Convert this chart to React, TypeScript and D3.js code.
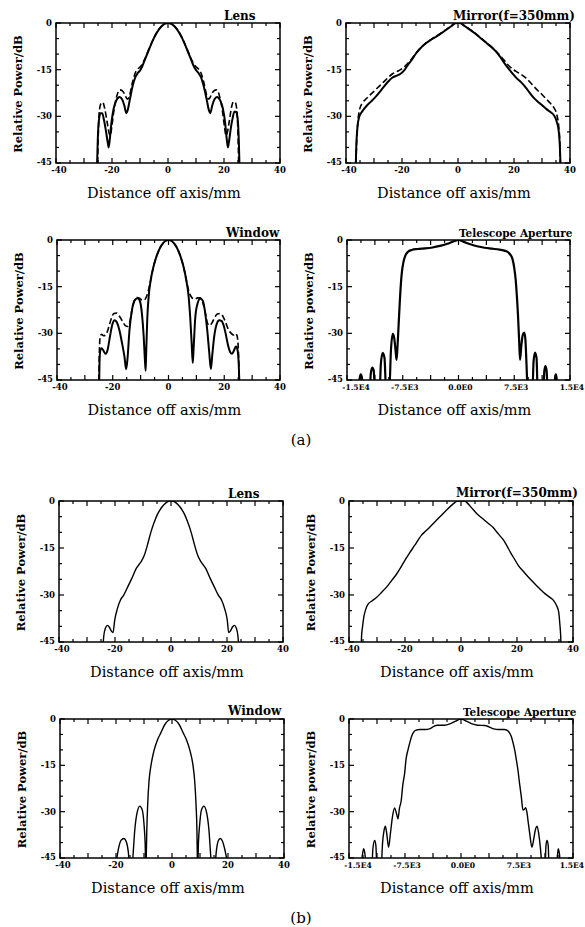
import React from 'react';
import * as d3 from 'd3';

type Pt = [number, number];

// ---------- tick values / labels ----------
const mmTickValues = [-40, -20, 0, 20, 40];
const mmTickLabels = ['-40', '-20', '0', '20', '40'];
const teleTickValues = [-15000, -7500, 0, 7500, 15000];
const teleTickLabels = ['-1.5E4', '-7.5E3', '0.0E0', '7.5E3', '1.5E4'];
const dbTickValues = [0, -15, -30, -45];
const dbTickLabels = ['0', '-15', '-30', '-45'];

// ---------- (a) Lens ----------
const lensASolid: Pt[] = [
  [-25.4, -48], [-25.1, -38], [-24.7, -31.5], [-24.1, -29], [-23.5, -29], [-22.9, -31], [-22.2, -34.5],
  [-21.5, -38.5], [-21.2, -40], [-20.8, -37.5], [-20.2, -32], [-19.4, -27.5], [-18.4, -24.8], [-17.3, -23.8],
  [-16.4, -24.5], [-15.6, -26.5], [-14.9, -29], [-14.4, -28], [-13.6, -24.5], [-12.7, -20.5], [-11.7, -17.5],
  [-10.7, -16], [-9.8, -15], [-9, -13.5], [-8, -11.2], [-7, -9], [-6, -6.8], [-5, -4.8], [-4, -3.1], [-3, -1.8],
  [-2, -0.8], [-1, -0.2], [0, 0], [1, -0.2], [2, -0.8], [3, -1.8], [4, -3.1], [5, -4.8], [6, -6.8], [7, -9],
  [8, -11.2], [9, -13.5], [9.9, -15], [10.8, -16], [11.8, -17.5], [12.8, -20.5], [13.8, -24.5], [14.6, -28],
  [15.1, -29], [15.8, -26.5], [16.6, -24.5], [17.5, -23.8], [18.6, -24.8], [19.6, -27.5], [20.4, -32],
  [21, -37.5], [21.4, -40], [21.8, -38], [22.4, -34], [23.1, -30.5], [23.7, -28.5], [24.3, -28.5],
  [24.9, -31], [25.3, -38], [25.6, -48],
];
const lensADashed: Pt[] = [
  [-25.2, -48], [-24.9, -36], [-24.5, -28], [-23.9, -25.8], [-23.3, -25.5], [-22.6, -27.5], [-21.8, -31.5],
  [-21.0, -35.5], [-20.6, -36.2], [-20.1, -33.5], [-19.3, -28], [-18.3, -23.5], [-17.2, -21.5], [-16.3, -21.8],
  [-15.4, -23], [-14.5, -24.5], [-13.8, -23.5], [-12.8, -19.5], [-11.8, -16.3], [-10.8, -14.8], [-9.8, -14],
  [-9, -12.8], [-8, -11], [-7, -8.8], [-6, -6.7], [-5, -4.7], [-4, -3], [-3, -1.7], [-2, -0.8], [-1, -0.2],
  [0, 0], [1, -0.2], [2, -0.8], [3, -1.7], [4, -3], [5, -4.7], [6, -6.7], [7, -8.8], [8, -11], [9, -12.8],
  [9.9, -14], [10.9, -14.8], [11.9, -16.3], [12.9, -19.5], [13.9, -23.5], [14.6, -24.5], [15.5, -23],
  [16.4, -21.8], [17.3, -21.5], [18.4, -23.5], [19.4, -28], [20.2, -33.5], [20.7, -36.2], [21.1, -35.5],
  [21.9, -31.5], [22.7, -27], [23.4, -25.3], [24, -25.5], [24.6, -28], [25, -36], [25.3, -48],
];

// ---------- (a) Mirror ----------
const mirrorASolid: Pt[] = [
  [-36.6, -48], [-36.3, -39], [-35.9, -33.5], [-35.3, -30.2], [-34.2, -28.4], [-32.6, -26.6], [-31, -25.2],
  [-29.6, -23.9], [-28, -22.2], [-26.6, -20.6], [-25, -18.9], [-23.5, -17.6], [-21.8, -16.9], [-20.5, -16.3],
  [-19.3, -15.3], [-18, -13.6], [-16.5, -11.8], [-15, -9.8], [-13.5, -8.2], [-11.7, -6.7], [-9.5, -5.3],
  [-7.5, -4.2], [-5.5, -3.0], [-3.9, -2.0], [-2.2, -0.9], [-1, -0.1], [0, 0], [1, -0.1], [2.2, -0.9],
  [4, -2.0], [6, -3.3], [8, -4.8], [10, -6.3], [12, -7.8], [13.5, -9.1], [15, -10.8], [16.5, -12.8],
  [18, -14.6], [19.5, -16.3], [21, -17.8], [22.5, -19], [24, -20.5], [25.5, -22.3], [27, -24], [28.5, -25.3],
  [30, -26.4], [31.5, -27.6], [33, -28.6], [34.3, -29.7], [35.3, -31.8], [36, -35], [36.4, -40], [36.7, -48],
];
const mirrorADashed: Pt[] = [
  [-36.5, -48], [-36.2, -38], [-35.8, -32], [-35.2, -28], [-34.2, -25.8], [-32.6, -24.2], [-31, -22.8],
  [-29.6, -21.6], [-28, -20.2], [-26.6, -19], [-25, -17.6], [-23.5, -16.4], [-21.8, -15.6], [-20.5, -15],
  [-19.3, -14.2], [-18, -13], [-16.5, -11.5], [-15, -9.7], [-13.5, -8.1], [-11.7, -6.6], [-9.5, -5.2],
  [-7.5, -4.1], [-5.5, -2.9], [-3.9, -1.9], [-2.2, -0.8], [-1, -0.1], [0, 0], [1, -0.1], [2.2, -0.8],
  [4, -1.9], [6, -3.2], [8, -4.7], [10, -6.2], [12, -7.7], [13.5, -9], [15, -10.4], [16.5, -12], [18, -13.6],
  [19.5, -14.8], [21, -15.7], [22.5, -16.5], [24, -17.5], [25.5, -18.8], [27, -20.3], [28.5, -21.7],
  [30, -23], [31.5, -24.4], [33, -25.8], [34.3, -27.3], [35.3, -29.5], [36, -33.5], [36.4, -39], [36.6, -48],
];

// ---------- (a) Window ----------
const windowASolid: Pt[] = [
  [-24.9, -48], [-24.7, -38], [-24.4, -35.2], [-24, -34.8], [-23.4, -35.5], [-22.6, -36.6], [-21.9, -35.5],
  [-21, -31], [-20.1, -27], [-19.3, -25.8], [-18.5, -26.5], [-17.6, -29], [-16.7, -33], [-15.8, -37.5],
  [-15.2, -41.5], [-14.7, -38], [-14, -29], [-13, -22], [-12, -19.2], [-11, -18.7], [-10.2, -19.8],
  [-9.5, -24], [-8.9, -31], [-8.5, -38], [-8.2, -42], [-8, -36], [-7.6, -25], [-7.1, -18], [-6.4, -13],
  [-5.5, -9], [-4.5, -5.8], [-3.5, -3.4], [-2.5, -1.7], [-1.5, -0.6], [-0.7, -0.1], [0, 0], [0.7, -0.1],
  [1.5, -0.6], [2.5, -1.7], [3.5, -3.4], [4.5, -5.8], [5.5, -9], [6.4, -13], [7.2, -18], [7.8, -25],
  [8.3, -33], [8.7, -39.5], [9.0, -35], [9.6, -25], [10.4, -20.5], [11.4, -18.8], [12.3, -19.5], [13.1, -23],
  [13.9, -29], [14.6, -36], [15.2, -41.5], [15.7, -37], [16.4, -31], [17.3, -27], [18.2, -25.8], [19, -26],
  [19.8, -27.5], [20.6, -30.5], [21.4, -34], [22.1, -36], [22.8, -36.6], [23.5, -35.5], [24.2, -34.2],
  [24.8, -35.5], [25.2, -40], [25.5, -48],
];
const windowADashed: Pt[] = [
  [-25, -48], [-24.8, -36], [-24.5, -31], [-24, -30.3], [-23.3, -30.8], [-22.5, -30.5], [-21.6, -28.5],
  [-20.6, -25.5], [-19.6, -23.6], [-18.6, -23.5], [-17.6, -24.5], [-16.6, -26], [-15.5, -27.5], [-14.6, -27.8],
  [-13.9, -26.5], [-13.1, -22.5], [-12.2, -19.5], [-11.3, -18.5], [-10.4, -18.7], [-9.5, -19.3], [-8.7, -19.3],
  [-8, -18.4], [-7.3, -16.5], [-6.4, -13], [-5.5, -9], [-4.5, -5.8], [-3.5, -3.4], [-2.5, -1.7], [-1.5, -0.6],
  [-0.7, -0.1], [0, 0], [0.7, -0.1], [1.5, -0.6], [2.5, -1.7], [3.5, -3.4], [4.5, -5.8], [5.5, -9],
  [6.4, -13], [7.3, -16.5], [8, -18], [8.7, -18.8], [9.5, -19], [10.4, -18.6], [11.3, -18.6], [12.2, -19.8],
  [13.1, -23], [13.9, -26.5], [14.6, -27.5], [15.5, -26.8], [16.5, -25], [17.5, -23.8], [18.5, -23.6],
  [19.5, -24.5], [20.5, -26.5], [21.5, -28.8], [22.5, -30], [23.3, -30.5], [24, -30], [24.6, -30.8],
  [25.1, -36], [25.4, -48],
];

// ---------- (a) Telescope aperture ----------
const teleA: Pt[] = [
  [-15000, -48], [-13450, -48], [-13300, -44.5], [-13150, -43.2], [-13000, -44], [-12850, -48],
  [-11950, -48], [-11800, -43], [-11600, -41], [-11400, -42], [-11250, -48], [-10600, -48],
  [-10450, -40], [-10200, -36.3], [-9950, -38], [-9750, -48], [-9300, -48], [-9100, -36], [-8850, -30.2],
  [-8650, -31.5], [-8450, -36], [-8330, -38.5], [-8200, -34], [-8050, -27], [-7900, -20], [-7750, -14],
  [-7600, -10], [-7400, -7], [-7150, -5], [-6800, -3.8], [-6300, -3.2], [-5500, -2.9], [-4500, -2.7],
  [-3500, -2.4], [-2500, -1.9], [-1500, -1.2], [-700, -0.5], [0, 0], [700, -0.6], [1500, -1.3],
  [2500, -2], [3500, -2.5], [4500, -2.8], [5500, -3.1], [6300, -3.5], [6900, -4.5], [7250, -6],
  [7500, -9], [7700, -13], [7850, -18], [8000, -24], [8150, -32], [8280, -38.5], [8450, -34],
  [8650, -30.5], [8850, -29.8], [9000, -32], [9150, -40], [9300, -48], [9950, -48], [10100, -39],
  [10300, -36.2], [10500, -38], [10650, -48], [11400, -48], [11550, -42], [11700, -40.5], [11850, -42],
  [12000, -48], [12900, -48], [13000, -44], [13100, -43.2], [13200, -44.5], [13350, -48], [15000, -48],
];

// ---------- (b) Lens ----------
const lensB: Pt[] = [
  [-24.4, -48], [-24, -43], [-23.4, -40.5], [-22.7, -39.7], [-22, -40.3], [-21.3, -41.5], [-20.7, -42],
  [-20.1, -38], [-19.2, -34.5], [-18, -31.5], [-17, -30.2], [-15.5, -27.5], [-14, -24.7], [-12.4, -21.5],
  [-10.8, -19.5], [-9.6, -17.5], [-8.4, -14], [-7.2, -10], [-6, -6.8], [-4.8, -4.2], [-3.3, -2], [-1.8, -0.6],
  [-0.6, -0.05], [0, 0], [0.6, -0.05], [1.8, -0.6], [3.3, -2], [4.8, -4.2], [6, -6.8], [7.2, -10],
  [8.4, -14], [9.6, -17.5], [10.8, -19.5], [12.4, -21.5], [14, -24.7], [15.5, -27.5], [17, -30.2],
  [18, -31.5], [19.2, -34.5], [20.1, -38], [20.6, -42], [21.2, -41.5], [21.9, -40.3], [22.6, -39.7],
  [23.3, -40.5], [23.9, -43], [24.3, -48],
];

// ---------- (b) Mirror ----------
const mirrorB: Pt[] = [
  [-35.7, -48], [-35.5, -43], [-35.2, -40.4], [-34.7, -37], [-34, -34.5], [-33.2, -32.9], [-31.8, -31.9],
  [-30.2, -30.8], [-28.4, -29.2], [-26.6, -27.5], [-24.8, -25.4], [-23, -23.3], [-21.5, -21.2], [-20.1, -19],
  [-18.3, -16.5], [-16.5, -14.1], [-15.2, -12.3], [-14.1, -10.9], [-12.6, -9.6], [-11.1, -8.3], [-8.7, -6.1],
  [-6.2, -3.8], [-3.9, -1.8], [-2.2, -0.5], [-1.3, 0], [1.3, 0], [2.2, -0.6], [3.8, -2.2], [5.6, -4],
  [7.7, -5.6], [9.8, -7.2], [11.4, -8.4], [12.8, -9.9], [14, -11.2], [15.2, -12.5], [16.4, -14.3],
  [17.6, -16.3], [19, -18.4], [20.5, -20.6], [22.6, -22.8], [24.7, -24.9], [27.1, -27.1], [29.5, -29.2],
  [31.5, -30.6], [33.1, -31.8], [34.2, -33.5], [34.9, -35.5], [35.3, -39.3], [35.6, -43], [35.8, -48],
];

// ---------- (b) Window ----------
const windowB: Pt[] = [
  [-40, -48], [-20.3, -48], [-19.7, -45], [-19, -41.5], [-18.2, -39.3], [-17.2, -38.7], [-16.3, -39.8],
  [-15.6, -43], [-15.1, -48], [-14.4, -48], [-14, -45], [-13.3, -36], [-12.5, -30.5], [-11.5, -28.2],
  [-10.6, -29.5], [-10, -34], [-9.6, -40], [-9.35, -48], [-9.2, -45], [-9, -36], [-8.7, -28], [-8.2, -20],
  [-7.5, -15], [-6.5, -10.5], [-5.2, -6.8], [-4, -4.5], [-2.5, -1.7], [-1.2, -0.4], [0, 0], [1.2, -0.4],
  [2.5, -1.7], [4, -4.5], [5.2, -6.8], [6.5, -10.5], [7.5, -15], [8.1, -20], [8.6, -28], [8.9, -36],
  [9.05, -45], [9.2, -48], [9.45, -40], [9.9, -34], [10.5, -29.5], [11.4, -28.2], [12.4, -30.5],
  [13.2, -36], [13.9, -45], [14.3, -48], [15.3, -48], [15.8, -43], [16.5, -39.5], [17.2, -38.7],
  [18, -39.5], [18.8, -42], [19.5, -45], [20.2, -48], [40, -48],
];

// ---------- (b) Telescope aperture ----------
const teleB: Pt[] = [
  [-15000, -48], [-13400, -48], [-13200, -44], [-13036, -42], [-12850, -44], [-12700, -48],
  [-11950, -48], [-11800, -42], [-11560, -39.3], [-11400, -41], [-11250, -48], [-10700, -48],
  [-10500, -40], [-10300, -36], [-10130, -34.7], [-9950, -37], [-9700, -41.5], [-9450, -37],
  [-9200, -32], [-8900, -28.8], [-8650, -30.5], [-8440, -32.3], [-8250, -29], [-8000, -26.3],
  [-7800, -21.5], [-7550, -17.6], [-7350, -12.8], [-7100, -10], [-6880, -7.9], [-6600, -5.5],
  [-6400, -4.5], [-6100, -3.7], [-5500, -3.4], [-4800, -3.4], [-4200, -3.2], [-3700, -2.5],
  [-3200, -2.0], [-2200, -2.0], [-1500, -1.6], [-800, -0.8], [0, 0], [800, -0.8], [1500, -1.6],
  [2200, -2.0], [3200, -2.1], [3800, -2.6], [4400, -3.2], [5000, -3.4], [5800, -3.4], [6200, -3.7],
  [6500, -4.5], [6740, -5.7], [7000, -8], [7190, -10], [7400, -13], [7630, -16.6], [7850, -21],
  [8080, -25.2], [8300, -29.5], [8500, -29.2], [8660, -28.7], [8850, -30.5], [8970, -32.8], [9200, -37],
  [9500, -41.5], [9800, -38], [10000, -35.5], [10180, -34.7], [10400, -37], [10625, -41.5], [10750, -45],
  [10900, -48], [11250, -48], [11380, -41], [11520, -39.3], [11680, -41], [11800, -48], [12800, -48],
  [12920, -44], [13036, -42], [13200, -44], [13350, -48], [15000, -48],
];

// ---------- chart pieces ----------
type Series = { data: Pt[]; dashed?: boolean; width: number };
type PanelProps = {
  id: string;
  left: number; right: number; top: number; bottom: number;
  tele?: boolean;
  title: string; titleX: number; titleY: number; titleSize: number;
  series: Series[];
};

const SERIF = "'DejaVu Serif', 'Liberation Serif', serif";

function Panel(p: PanelProps) {
  const xDomain: [number, number] = p.tele ? [-15000, 15000] : [-40, 40];
  const xs = d3.scaleLinear().domain(xDomain).range([p.left, p.right]);
  const ys = d3.scaleLinear().domain([-45, 0]).range([p.bottom, p.top]);
  const xMinorStep = p.tele ? 1875 : 5;
  const xMajorStep = p.tele ? 3750 : 10;
  const xMinor = d3.range(xDomain[0], xDomain[1] + 1e-6, xMinorStep);
  const yMinor = d3.range(-45, 0.001, 5);
  const line = d3.line<Pt>().x(d => xs(d[0])).y(d => ys(d[1])).curve(d3.curveMonotoneX);
  const xVals = p.tele ? teleTickValues : mmTickValues;
  const xLabs = p.tele ? teleTickLabels : mmTickLabels;
  const xLabSize = p.tele ? 7.6 : 8.5;
  const cx = (p.left + p.right) / 2;
  const cy = (p.top + p.bottom) / 2;
  return (
    <g>
      <defs>
        <clipPath id={p.id}>
          <rect x={p.left} y={p.top} width={p.right - p.left} height={p.bottom - p.top} />
        </clipPath>
      </defs>
      {xMinor.map((v, i) => {
        const isMajor = Math.abs(v / xMajorStep - Math.round(v / xMajorStep)) < 1e-6;
        const len = isMajor ? 5 : 3;
        return (
          <g key={'xt' + i} stroke="#000" strokeWidth={1.2}>
            <line x1={xs(v)} x2={xs(v)} y1={p.bottom} y2={p.bottom - len} />
            <line x1={xs(v)} x2={xs(v)} y1={p.top} y2={p.top + len} />
          </g>
        );
      })}
      {yMinor.map((v, i) => {
        const isMajor = Math.abs(v % 15) < 1e-6;
        const len = isMajor ? 5 : 3;
        return (
          <g key={'yt' + i} stroke="#000" strokeWidth={1.2}>
            <line x1={p.left} x2={p.left + len} y1={ys(v)} y2={ys(v)} />
            <line x1={p.right} x2={p.right - len} y1={ys(v)} y2={ys(v)} />
          </g>
        );
      })}
      <g clipPath={`url(#${p.id})`}>
        {p.series.map((s, i) => (
          <path key={i} d={line(s.data) || ''} fill="none" stroke="#000" strokeWidth={s.width}
            strokeDasharray={s.dashed ? '6,3' : undefined} strokeLinejoin="round" />
        ))}
      </g>
      <rect x={p.left} y={p.top} width={p.right - p.left} height={p.bottom - p.top}
        fill="none" stroke="#000" strokeWidth={1.5} />
      {xVals.map((v, i) => {
        const last = i === xVals.length - 1;
        let x = xs(v);
        let anchor = 'middle';
        if (p.tele) {
          if (i === 0) x += 9;
          else if (last) { x = 584; anchor = 'end'; }
          else x += 2;
        } else if (i === 0) x += 3;
        return (
          <text key={'xl' + i} x={x} y={p.bottom + 10} textAnchor={anchor}
            fontFamily={SERIF} fontWeight="bold" fontSize={xLabSize}>{xLabs[i]}</text>
        );
      })}
      {dbTickValues.map((v, i) => (
        <text key={'yl' + i} x={p.left - 4} y={ys(v) + 3 - (v === -45 ? 1 : 0)} textAnchor="end"
          fontFamily={SERIF} fontWeight="bold" fontSize={8.5}>{dbTickLabels[i]}</text>
      ))}
      <text x={cx - 4} y={p.bottom + 35} textAnchor="middle" fontFamily={SERIF} fontSize={14.5}>
        Distance off axis/mm
      </text>
      <text transform={`translate(${p.left - 34},${cy + 1}) rotate(-90)`} textAnchor="middle"
        fontFamily={SERIF} fontWeight="bold" fontSize={11.5}>
        {p.tele ? 'Relative power/dB' : 'Relative Power/dB'}
      </text>
      <text x={p.titleX} y={p.titleY} fontFamily={SERIF} fontWeight="bold" fontSize={p.titleSize}>
        {p.title}
      </text>
    </g>
  );
}

export default function App() {
  return (
    <svg width={585} height={927} viewBox="0 0 585 927"
      style={{ position: 'absolute', left: 0, top: 0, background: '#fff' }}>
      <rect x={0} y={0} width={585} height={927} fill="#fff" />
      <Panel id="c1" left={56} right={280} top={23} bottom={163} title="Lens" titleX={224} titleY={20} titleSize={12}
        series={[{ data: lensADashed, dashed: true, width: 1.6 }, { data: lensASolid, width: 2 }]} />
      <Panel id="c2" left={346} right={570} top={23} bottom={163} title="Mirror(f=350mm)" titleX={453} titleY={20} titleSize={12}
        series={[{ data: mirrorADashed, dashed: true, width: 1.6 }, { data: mirrorASolid, width: 2 }]} />
      <Panel id="c3" left={57} right={280} top={240} bottom={380} title="Window" titleX={226} titleY={237} titleSize={12}
        series={[{ data: windowADashed, dashed: true, width: 1.6 }, { data: windowASolid, width: 2 }]} />
      <Panel id="c4" left={347} right={570} top={240} bottom={380} tele title="Telescope Aperture" titleX={459} titleY={237} titleSize={10.5}
        series={[{ data: teleA, width: 2.2 }]} />
      <text x={301} y={445} textAnchor="middle" fontFamily={SERIF} fontSize={15}>(a)</text>

      <Panel id="c5" left={59} right={283} top={501} bottom={642} title="Lens" titleX={228} titleY={498} titleSize={12}
        series={[{ data: lensB, width: 1.4 }]} />
      <Panel id="c6" left={349} right={573} top={501} bottom={642} title="Mirror(f=350mm)" titleX={456} titleY={497} titleSize={12}
        series={[{ data: mirrorB, width: 1.4 }]} />
      <Panel id="c7" left={60} right={284} top={719} bottom={858} title="Window" titleX={228} titleY={715} titleSize={12}
        series={[{ data: windowB, width: 1.4 }]} />
      <Panel id="c8" left={349} right={573} top={719} bottom={858} tele title="Telescope Aperture" titleX={463} titleY={716} titleSize={10.5}
        series={[{ data: teleB, width: 1.4 }]} />
      <text x={301} y={923} textAnchor="middle" fontFamily={SERIF} fontSize={15}>(b)</text>
    </svg>
  );
}
